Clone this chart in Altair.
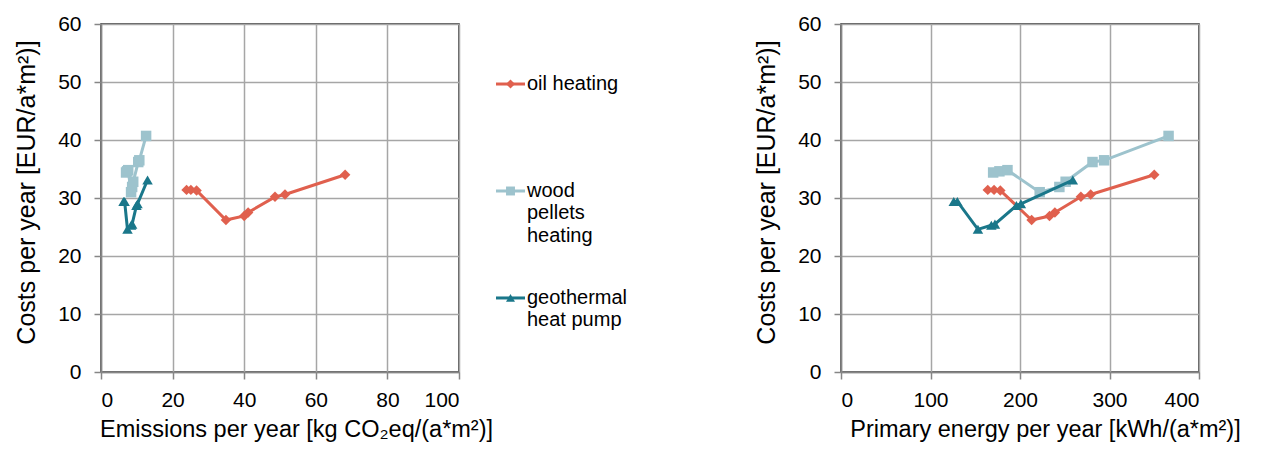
import altair as alt
import pandas as pd

FONT = "Liberation Sans"

series_names = ["oil heating", "wood pellets heating", "geothermal heat pump"]
legend_labels = ["oil heating", "wood|pellets|heating", "geothermal|heat pump"]
colors = ["#E0604E", "#9DC3CD", "#1A778A"]
shapes = ["diamond", "square", "triangle-up"]

# oil heating
oil_emis = [23.9, 25.1, 26.7, 34.9, 40.0, 41.1, 48.6, 51.4, 68.2]
oil_pe = [164, 171, 178, 213, 233, 239, 268, 279, 350]
oil_cost = [31.4, 31.4, 31.3, 26.2, 26.9, 27.5, 30.2, 30.6, 34.0]

# wood pellets heating
wood_emis = [7.0, 7.3, 7.6, 8.4, 8.7, 9.0, 10.4, 10.7, 12.6]
wood_pe = [170, 177, 186, 222, 244, 251, 281, 294, 366]
wood_cost = [34.4, 34.6, 34.8, 31.0, 31.9, 32.8, 36.2, 36.5, 40.7]

# geothermal heat pump
geo_emis = [6.3, 6.6, 7.4, 8.4, 8.7, 9.9, 10.2, 13.0]
geo_pe = [126, 130, 153, 168, 172, 196, 201, 259]
geo_cost = [29.4, 29.4, 24.6, 25.3, 25.5, 28.7, 29.0, 33.1]

y_title = "Costs per year [EUR/a*m²)]"
x_title_left = "Emissions per year [kg CO₂eq/(a*m²)]"
x_title_right = "Primary energy per year [kWh/(a*m²)]"

rows = []
for name, emis, pe, cost in [
    (series_names[0], oil_emis, oil_pe, oil_cost),
    (series_names[1], wood_emis, wood_pe, wood_cost),
    (series_names[2], geo_emis, geo_pe, geo_cost),
]:
    for i, (e, p, c) in enumerate(zip(emis, pe, cost)):
        rows.append(dict(series=name, emis=e, pe=p, cost=c, idx=i))
df = pd.DataFrame(rows)

color_scale = alt.Scale(domain=series_names, range=colors)
shape_scale = alt.Scale(domain=series_names, range=shapes)


def panel(xfield, xmax, xstep, xtitle, title_x):
    layers = []
    for name in series_names:
        base = alt.Chart(df).transform_filter(alt.datum.series == name)
        enc = dict(
            x=alt.X(f"{xfield}:Q",
                    scale=alt.Scale(domain=[0, xmax], nice=False),
                    axis=alt.Axis(values=list(range(0, xmax + 1, xstep)), title=xtitle,
                                  labelPadding=10, titleFontSize=23.5, titlePadding=7,
                                  titleX=title_x)),
            y=alt.Y("cost:Q",
                    scale=alt.Scale(domain=[0, 60], nice=False),
                    axis=alt.Axis(values=list(range(0, 61, 10)), title=y_title,
                                  labelPadding=13, titleFontSize=25, titlePadding=18,
                                  titleY=168)),
            color=alt.Color("series:N", scale=color_scale, legend=None),
            order=alt.Order("idx:Q"),
        )
        layers.append(base.mark_line(strokeWidth=3).encode(**enc))
        layers.append(
            base.mark_point(filled=True, size=110, opacity=1).encode(
                shape=alt.Shape("series:N", scale=shape_scale, legend=None), **enc))
    return alt.layer(*layers).properties(width=358, height=348)


left = panel("emis", 100, 20, x_title_left, 195)
right = panel("pe", 400, 100, x_title_right, 204)

# legend panel
leg_df = pd.DataFrame({"series": series_names, "label": legend_labels, "rank": [0, 1, 2]})
leg_y = alt.Y("rank:Q", scale=alt.Scale(domain=[-0.561, 2.692], reverse=True), axis=None)
leg_x = alt.Scale(domain=[0, 342])
leg_rule = alt.Chart(leg_df).mark_rule(strokeWidth=3).encode(
    x=alt.XDatum(17, scale=leg_x, axis=None),
    x2=alt.X2Datum(46),
    y=leg_y,
    color=alt.Color("series:N", scale=color_scale, legend=None),
)
leg_pt = alt.Chart(leg_df).mark_point(filled=True, size=80, opacity=1).encode(
    x=alt.XDatum(31.5, scale=leg_x, axis=None),
    y=leg_y,
    color=alt.Color("series:N", scale=color_scale, legend=None),
    shape=alt.Shape("series:N", scale=shape_scale, legend=None),
)
leg_txt = alt.Chart(leg_df).mark_text(
    align="left", baseline="top", dy=-10, lineBreak="|", fontSize=20,
    font=FONT, lineHeight=22.5, color="black"
).encode(
    x=alt.XDatum(48, scale=leg_x, axis=None),
    y=leg_y,
    text="label:N",
)
legend_panel = alt.layer(leg_rule, leg_pt, leg_txt).properties(
    width=342, height=348, view=alt.ViewConfig(stroke="transparent"))

chart = alt.hconcat(left, legend_panel, right, spacing=20, bounds="flush").configure_axis(
    labelFont=FONT, labelFontSize=21, labelColor="black",
    titleFont=FONT, titleFontWeight="normal", titleColor="black",
    domainColor="#868686", domainWidth=1.5, tickColor="#868686", tickSize=7, tickWidth=1.5,
    gridColor="#A6A6A6", gridWidth=1.5,
).configure_view(stroke="#262626", strokeWidth=1.5).properties(
    padding={"left": 5, "top": 4, "right": 5, "bottom": 5})

chart.save("out.html", embed_options={"renderer": "svg", "actions": False})
